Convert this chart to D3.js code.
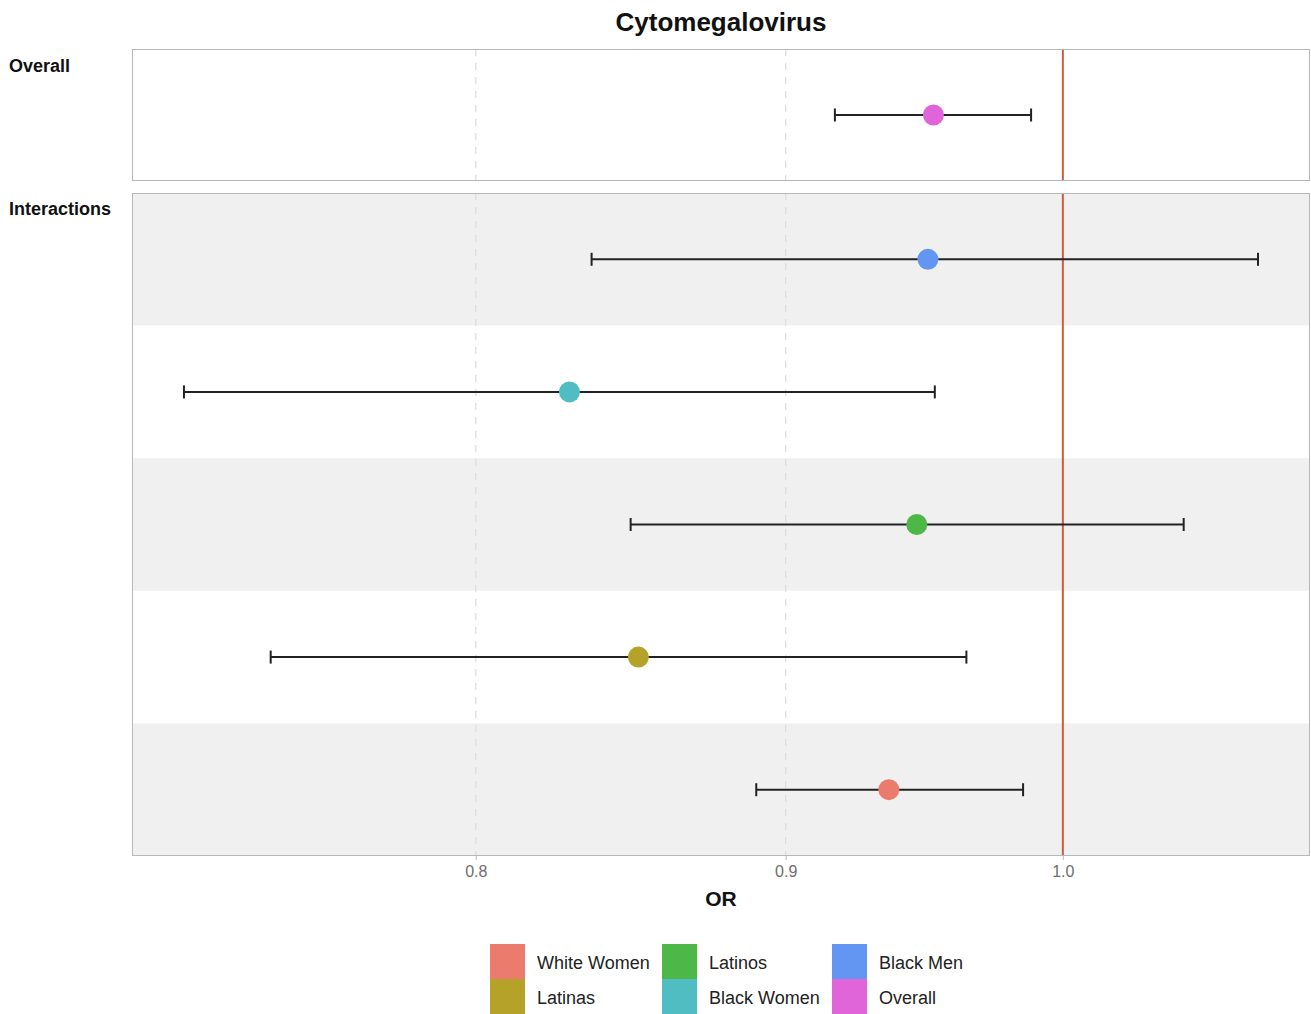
<!DOCTYPE html>
<html>
<head>
<meta charset="utf-8">
<script src="https://cdn.jsdelivr.net/npm/d3@7"></script>
<style>
  body { margin: 0; background: #fff; }
  text { font-family: "Liberation Sans", Arial, sans-serif; }
</style>
</head>
<body>
<svg id="chart"></svg>
<script>
// data
const groups = ["Overall", "Black Men", "Black Women", "Latinos", "Latinas", "White Women"];
const panelOf = ["Overall", "Interactions", "Interactions", "Interactions", "Interactions", "Interactions"];
const orValues = [0.952, 0.950, 0.829, 0.946, 0.851, 0.936];
const ciLow = [0.917, 0.836, 0.716, 0.8485, 0.740, 0.890];
const ciHigh = [0.988, 1.077, 0.9525, 1.047, 0.964, 0.985];
const legendOrder = ["White Women", "Latinas", "Latinos", "Black Women", "Black Men", "Overall"];
const legendColors = ["#ea7b6d", "#b5a229", "#4db848", "#4fbdc1", "#6395f2", "#df65d8"];
const xTicks = [0.8, 0.9, 1.0];
const refValue = 1.0;

const W = 1311, H = 1014;
const svg = d3.select("#chart").attr("width", W).attr("height", H);

const x = d3.scaleLog().domain([0.702, 1.0985]).range([132, 1310]);
const color = d3.scaleOrdinal().domain(legendOrder).range(legendColors);

const rows = groups.map((g, i) => ({ group: g, panel: panelOf[i], or: orValues[i], lo: ciLow[i], hi: ciHigh[i] }));

const panels = [
  { name: "Overall", top: 49, bottom: 181, labelY: 72 },
  { name: "Interactions", top: 193, bottom: 856, labelY: 215 }
];

panels.forEach(p => {
  const pr = rows.filter(d => d.panel === p.name);
  const y = d3.scaleBand().domain(pr.map(d => d.group)).range([p.top, p.bottom]);
  const g = svg.append("g");

  // background bands (only alternating in the interactions panel)
  g.selectAll("rect.band")
    .data(pr)
    .enter().append("rect")
    .attr("x", x.range()[0])
    .attr("y", d => y(d.group))
    .attr("width", x.range()[1] - x.range()[0])
    .attr("height", y.bandwidth())
    .attr("fill", (d, i) => (p.name === "Interactions" && i % 2 === 0) ? "#f0f0f0" : "#fff");

  // dashed grid
  g.selectAll("line.grid")
    .data(xTicks.filter(t => t !== refValue))
    .enter().append("line")
    .attr("x1", d => x(d)).attr("x2", d => x(d))
    .attr("y1", p.top).attr("y2", p.bottom)
    .attr("stroke", "#dcdcdc")
    .attr("stroke-width", 1.2)
    .attr("stroke-dasharray", "7,7");

  // reference line
  g.append("line")
    .attr("x1", x(refValue)).attr("x2", x(refValue))
    .attr("y1", p.top).attr("y2", p.bottom)
    .attr("stroke", "#cf5a3e")
    .attr("stroke-width", 2);

  // error bars
  const eb = g.selectAll("g.eb")
    .data(pr)
    .enter().append("g")
    .attr("transform", d => `translate(0,${y(d.group) + y.bandwidth() / 2})`);

  eb.append("line")
    .attr("x1", d => x(d.lo)).attr("x2", d => x(d.hi))
    .attr("stroke", "#222").attr("stroke-width", 2);
  eb.append("line")
    .attr("x1", d => x(d.lo)).attr("x2", d => x(d.lo))
    .attr("y1", -6.5).attr("y2", 6.5)
    .attr("stroke", "#222").attr("stroke-width", 2);
  eb.append("line")
    .attr("x1", d => x(d.hi)).attr("x2", d => x(d.hi))
    .attr("y1", -6.5).attr("y2", 6.5)
    .attr("stroke", "#222").attr("stroke-width", 2);
  eb.append("circle")
    .attr("cx", d => x(d.or))
    .attr("r", 10.5)
    .attr("fill", d => color(d.group));

  // panel border
  g.append("rect")
    .attr("x", x.range()[0] + 0.5)
    .attr("y", p.top + 0.5)
    .attr("width", x.range()[1] - x.range()[0] - 1)
    .attr("height", p.bottom - p.top - 1)
    .attr("fill", "none")
    .attr("stroke", "#b8b8b8")
    .attr("stroke-width", 1);

  // strip label
  svg.append("text")
    .attr("x", 9).attr("y", p.labelY)
    .attr("font-size", 18).attr("font-weight", "bold").attr("fill", "#111")
    .text(p.name);
});

// x axis
const axis = svg.append("g")
  .attr("transform", "translate(0,856)")
  .call(d3.axisBottom(x).tickValues(xTicks).tickFormat(d3.format(".1f")).tickSize(4).tickPadding(6));
axis.select(".domain").remove();
axis.selectAll(".tick line").attr("stroke", "#bdbdbd");
axis.selectAll(".tick text")
  .attr("fill", "#6e6e6e")
  .attr("font-size", 16)
  .attr("font-family", "Liberation Sans, Arial, sans-serif");

// title and axis label
svg.append("text")
  .attr("x", 721).attr("y", 31)
  .attr("text-anchor", "middle")
  .attr("font-size", 26).attr("font-weight", "bold").attr("fill", "#111")
  .text("Cytomegalovirus");

svg.append("text")
  .attr("x", 721).attr("y", 906)
  .attr("text-anchor", "middle")
  .attr("font-size", 21).attr("font-weight", "bold").attr("fill", "#111")
  .text("OR");

// legend, two rows filled by column
const keyX = [490, 662, 832];
const legend = svg.append("g");
const items = legend.selectAll("g")
  .data(legendOrder)
  .enter().append("g")
  .attr("transform", (d, i) => `translate(${keyX[Math.floor(i / 2)]},${944 + (i % 2) * 35})`);
items.append("rect")
  .attr("width", 35).attr("height", 35)
  .attr("fill", d => color(d));
items.append("text")
  .attr("x", 47).attr("y", 25)
  .attr("font-size", 18).attr("fill", "#222")
  .text(d => d);
</script>
</body>
</html>
